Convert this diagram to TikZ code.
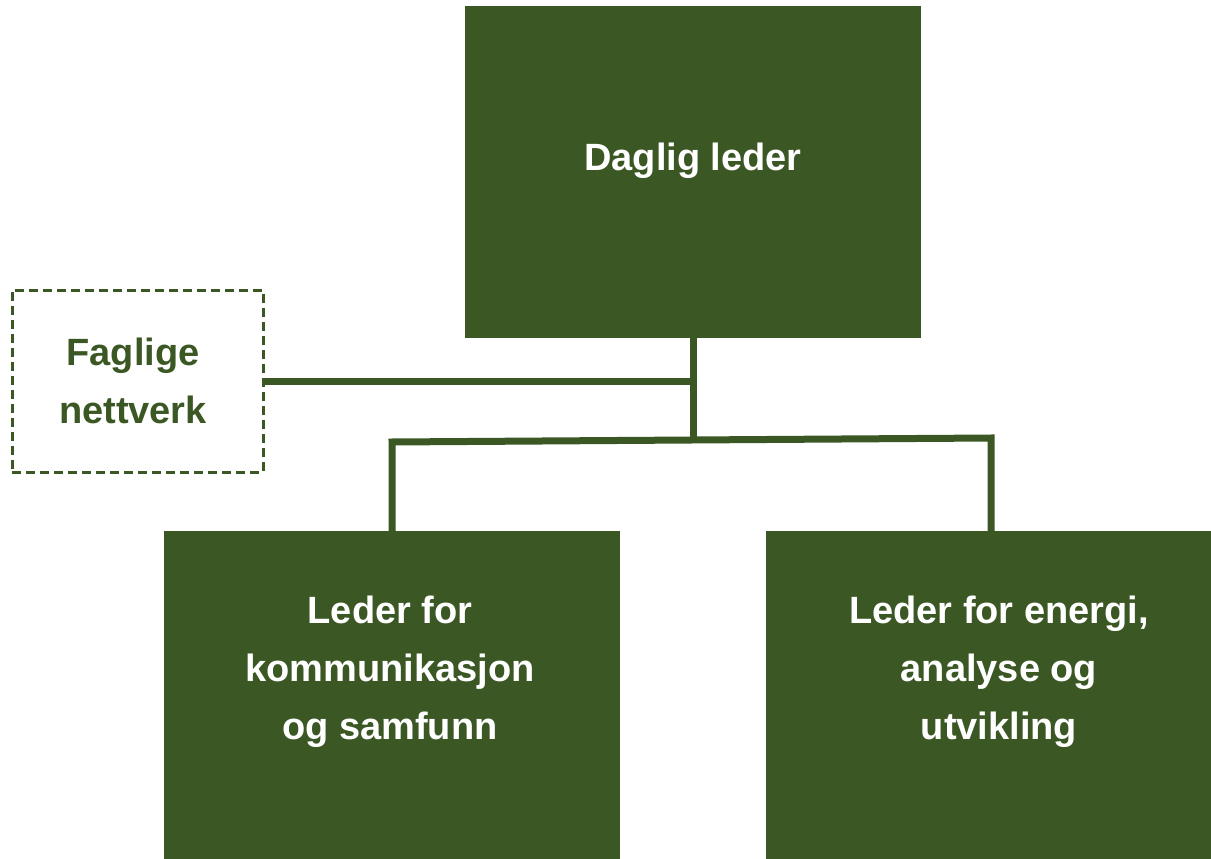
\documentclass[tikz,border=0pt]{standalone}
\usepackage{fontspec}
\setmainfont{Liberation Sans}
\definecolor{dgreen}{RGB}{59,87,36}
\tikzset{
  box/.style={draw=none, fill=dgreen, inner sep=0pt, anchor=north west},
  lbl/.style={text=white, font=\fontsize{38}{58}\selectfont\bfseries, align=center, inner sep=0pt},
  conn/.style={draw=dgreen, line width=7pt},
  dashbox/.style={draw=dgreen, line width=2.5pt, dash pattern=on 9pt off 5pt, inner sep=0pt, anchor=north west}
}
\begin{document}
\begin{tikzpicture}[x=1pt,y=-1pt]
\useasboundingbox (0,0) rectangle (1211,859);
\node[box, minimum width=456pt, minimum height=332pt] (top) at (465,6) {};
\node[box, minimum width=456pt, minimum height=360pt] (left) at (164,531) {};
\node[box, minimum width=450pt, minimum height=360pt] (right) at (766,531) {};
\node[dashbox, minimum width=251pt, minimum height=182pt] (fag) at (11,289) {};
\node[lbl, anchor=base] (toptxt) at (693,170) {Daglig leder};
\node[lbl] (lefttxt) at (390,672) {Leder for\\kommunikasjon\\og samfunn};
\node[lbl] (righttxt) at (999,672) {Leder for energi,\\analyse og\\utvikling};
\node[lbl, text=dgreen] (fagtxt) at (133,381) {Faglige\\nettverk};
\coordinate (busL) at (392,442);
\coordinate (busR) at (991,438);
\draw[conn] (top.south) -- ++(0,102);
\draw[conn] (fag.east) -- (fag.east -| top.south);
\draw[conn] (left.north) -- (busL) -- (busR) -- (right.north -| busR);
\end{tikzpicture}
\end{document}
